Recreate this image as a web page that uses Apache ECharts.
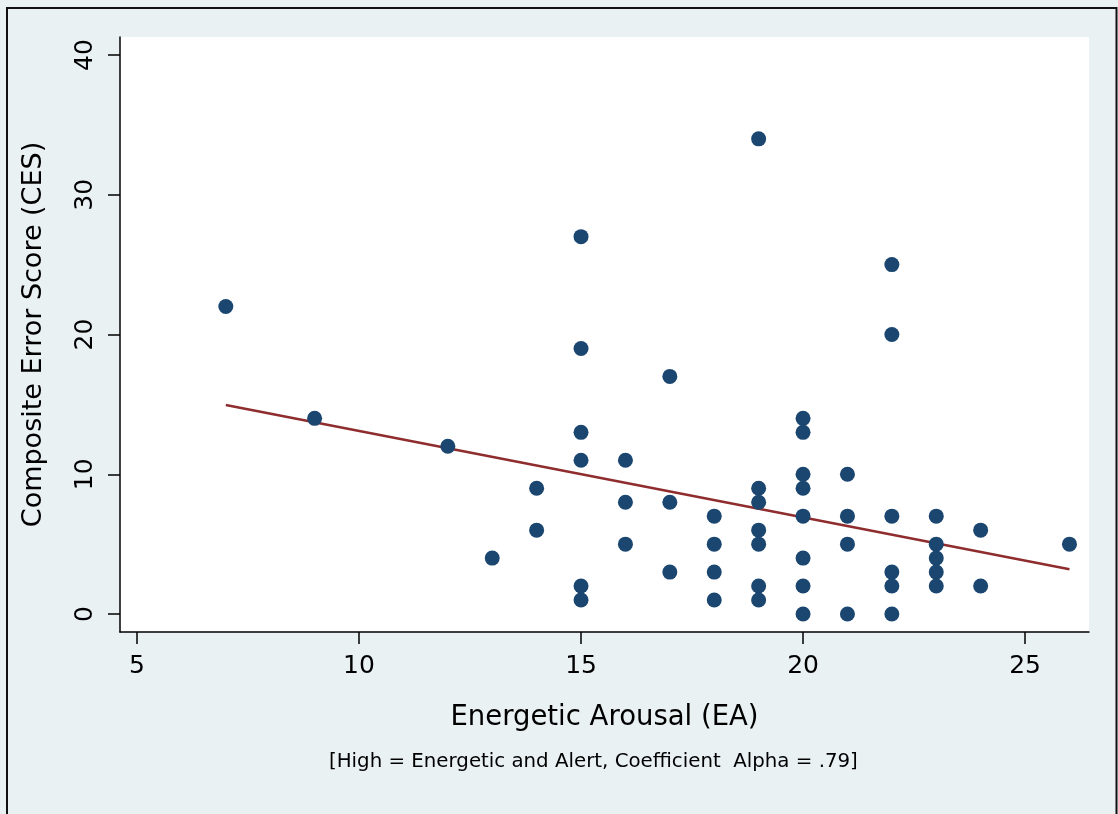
<!DOCTYPE html>
<html>
<head>
<meta charset="utf-8">
<script src="https://cdn.jsdelivr.net/npm/echarts@6/dist/echarts.min.js"></script>
<style>
  html, body { margin: 0; padding: 0; background: #EAF1F3; }
  #main { width: 1118px; height: 814px; }
</style>
</head>
<body>
<div id="main"></div>
<script>
// Energetic Arousal (x) vs Composite Error Score (y)
var points = [
  [7, 22], [9, 14], [12, 12], [13, 4], [14, 9], [14, 6],
  [15, 27], [15, 19], [15, 13], [15, 11], [15, 2], [15, 1],
  [16, 11], [16, 8], [16, 5],
  [17, 17], [17, 8], [17, 3],
  [18, 7], [18, 5], [18, 3], [18, 1],
  [19, 34], [19, 9], [19, 8], [19, 6], [19, 5], [19, 2], [19, 1],
  [20, 14], [20, 13], [20, 10], [20, 9], [20, 7], [20, 4], [20, 2], [20, 0],
  [21, 10], [21, 7], [21, 5], [21, 0],
  [22, 25], [22, 20], [22, 7], [22, 3], [22, 2], [22, 0],
  [23, 7], [23, 5], [23, 4], [23, 3], [23, 2],
  [24, 6], [24, 2],
  [26, 5]
]
// fitted line ends
var fitLine = [[7, 14.95], [26, 3.2]]
var xTicks = [5, 10, 15, 20, 25]
var yTicks = [0, 10, 20, 30, 40]

var font = '"DejaVu Sans", sans-serif'
var chart = echarts.init(document.getElementById('main'))

var option = {
  backgroundColor: '#EAF1F3',
  animation: false,
  grid: {
    left: 120, top: 37, right: 29, bottom: 182,
    show: true, backgroundColor: '#ffffff', borderWidth: 0
  },
  xAxis: {
    type: 'value',
    min: 4.617, max: 26.44,
    name: 'Energetic Arousal (EA)',
    nameLocation: 'middle',
    nameGap: 72,
    nameTextStyle: { fontFamily: font, fontSize: 27.5, color: '#000' },
    axisLine: { show: true, onZero: false, lineStyle: { color: '#000', width: 1.5 } },
    axisTick: { show: true, length: 12, customValues: xTicks, lineStyle: { color: '#000', width: 1.5 } },
    axisLabel: { customValues: xTicks, margin: 22, fontFamily: font, fontSize: 25, color: '#000' },
    splitLine: { show: false }
  },
  yAxis: {
    type: 'value',
    min: -1.288, max: 41.288,
    name: 'Composite Error Score (CES)',
    nameLocation: 'middle',
    nameGap: 73,
    nameTextStyle: { fontFamily: font, fontSize: 27, color: '#000' },
    axisLine: { show: true, onZero: false, lineStyle: { color: '#000', width: 1.5 } },
    axisTick: { show: true, length: 12, customValues: yTicks, lineStyle: { color: '#000', width: 1.5 } },
    axisLabel: { customValues: yTicks, rotate: 90, margin: 22, fontFamily: font, fontSize: 25, color: '#000' },
    splitLine: { show: false }
  },
  graphic: [
    {
      type: 'text', left: 329, top: 752,
      style: {
        text: '[High = Energetic and Alert, Coefficient  Alpha = .79]',
        fontFamily: font, fontSize: 19.8, fill: '#000'
      }
    },
    {
      type: 'polyline', silent: true,
      shape: { points: [[7, 814], [7, 8], [1116.5, 8], [1116.5, 814]] },
      style: { stroke: '#111', lineWidth: 2, fill: null }
    }
  ],
  series: [
    {
      type: 'scatter',
      data: points,
      symbolSize: 15,
      itemStyle: { color: '#1A4670', opacity: 1 },
      z: 3
    },
    {
      type: 'line',
      data: fitLine,
      symbol: 'none',
      lineStyle: { color: '#8E2C2E', width: 2.5 },
      z: 2
    }
  ]
}

chart.setOption(option)
window.onresize = chart.resize
</script>
</body>
</html>
